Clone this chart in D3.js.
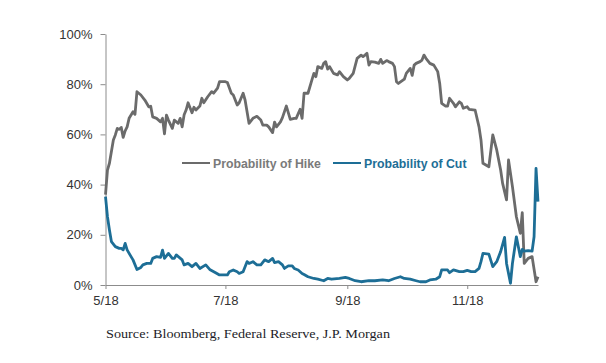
<!DOCTYPE html>
<html>
<head>
<meta charset="utf-8">
<script src="https://cdn.jsdelivr.net/npm/d3@7"></script>
<style>
  body { margin: 0; background: #fff; }
  .axis text { font-family: "Liberation Sans", Arial, sans-serif; font-size: 13px; fill: #333; }
  .axis path, .axis line { stroke: #8c8c8c; }
</style>
</head>
<body>
<div id="chart"></div>
<script>
// Fed funds futures: implied probability of a hike / cut (May - Dec 2018)
var hikeDates = ["5/1","5/2","5/3","5/5","5/6","5/7","5/8","5/9","5/10","5/11",
  "5/12","5/13","5/15","5/16","5/17","5/19","5/21","5/23","5/24","5/25",
  "5/27","5/29","5/30","5/31","6/1","6/2","6/4","6/5","6/7","6/8",
  "6/9","6/10","6/11","6/12","6/14","6/15","6/16","6/18","6/19","6/20",
  "6/22","6/24","6/25","6/27","6/28","7/1","7/2","7/4","7/5","7/7",
  "7/8","7/10","7/11","7/13","7/15","7/17","7/19","7/20","7/22","7/23",
  "7/25","7/26","7/27","7/29","7/30","8/1","8/3","8/5","8/6","8/8",
  "8/9","8/10","8/12","8/14","8/15","8/16","8/17","8/19","8/20","8/21",
  "8/22","8/23","8/25","8/27","8/28","8/30","9/1","9/2","9/4","9/6",
  "9/8","9/9","9/10","9/11","9/12","9/13","9/15","9/17","9/18","9/19",
  "9/21","9/22","9/24","9/25","9/26","9/27","9/30","10/1","10/3","10/4",
  "10/5","10/6","10/8","10/9","10/10","10/11","10/13","10/15","10/17","10/18",
  "10/19","10/21","10/22","10/23","10/25","10/26","10/28","10/29","10/30","11/1",
  "11/2","11/5","11/7","11/8","11/9","11/12","11/14","11/16","11/18","11/19",
  "11/21","11/22","11/24","11/26","11/28","11/29","11/30","12/2","12/4","12/6",
  "12/7"];
var hikeValues = [36, 45.8, 48.5, 57.8, 59.8, 62.4, 62, 62.8, 58.8, 61.4,
  63, 66.4, 69, 68, 77, 75.7, 73.7, 71, 71.2, 67,
  66.4, 65, 66.4, 60.2, 67.7, 65.7, 62.4, 65.7, 64.4, 66.4,
  63, 67.8, 69.7, 72.6, 68.6, 70.8, 69.7, 71.3, 74.4, 72.6,
  75, 77, 76.4, 78.4, 81, 81, 80.7, 76.4, 75.7, 71.7,
  72.6, 76.4, 73.7, 64.4, 66.4, 67.2, 65.7, 63.7, 63.7, 63,
  60.7, 64.9, 63, 65, 66.7, 71.3, 66, 66.4, 66.4, 70,
  66.4, 76.4, 76.4, 81.7, 84.3, 83, 87, 86.3, 88.3, 89,
  86, 87, 84.3, 83.7, 85, 83, 81.7, 82.3, 84.3, 90.3,
  91.6, 91, 91.6, 92.3, 87.6, 89, 88.8, 88.3, 89.9, 88.3,
  89.4, 89, 88.3, 87, 81, 80.3, 82, 84.3, 86.3, 83.5,
  87.6, 88.3, 89, 89.6, 91.6, 90.3, 88.3, 87.6, 85, 80.3,
  72.4, 71.3, 71.3, 74.4, 72.4, 71, 73, 72.4, 70.4, 71,
  70, 69.7, 63, 57.8, 48.5, 47.1, 59.8, 53.8, 45.8, 40.5,
  33.9, 49.8, 39.2, 27.2, 20.6, 28.8, 8.6, 10.6, 11.3, 1.3,
  3.3];

var cutDates = ["5/1","5/2","5/3","5/4","5/6","5/8","5/9","5/10","5/11","5/12",
  "5/14","5/15","5/17","5/19","5/20","5/22","5/24","5/25","5/27","5/29",
  "5/30","5/31","6/2","6/4","6/5","6/6","6/9","6/10","6/12","6/14",
  "6/16","6/18","6/21","6/23","6/26","6/28","7/2","7/3","7/5","7/7",
  "7/8","7/10","7/12","7/13","7/15","7/17","7/19","7/21","7/23","7/25",
  "7/26","7/28","7/30","7/31","8/2","8/4","8/5","8/7","8/9","8/10",
  "8/12","8/15","8/17","8/20","8/22","8/24","8/28","8/31","9/2","9/5",
  "9/8","9/12","9/15","9/19","9/22","9/25","9/28","9/30","10/3","10/6",
  "10/8","10/11","10/13","10/16","10/18","10/19","10/22","10/23","10/25","10/28",
  "10/30","11/1","11/3","11/5","11/7","11/8","11/9","11/12","11/14","11/16",
  "11/18","11/20","11/21","11/23","11/24","11/26","11/28","11/29","11/30","12/2",
  "12/4","12/5","12/6","12/7"];
var cutValues = [35.2, 27.2, 21.9, 17.3, 15.3, 14.6, 14.6, 14, 16.6, 14,
  11.3, 10, 6.2, 7, 8, 8.6, 8.6, 10.6, 11.3, 11,
  13.9, 10.6, 12.6, 10.6, 10.6, 12, 10, 8, 8.6, 7.3,
  8.6, 6.6, 8, 6.2, 4.9, 4, 4, 5.3, 6, 5.3,
  4.6, 5.3, 9.3, 8.6, 9.3, 8, 8, 10, 9.3, 10.6,
  8.9, 9.3, 8, 6.6, 7.6, 7.6, 6.6, 6, 4.6, 4.2,
  3.3, 2.6, 2.3, 1.7, 2.6, 2.3, 2.6, 3, 2.6, 1.7,
  1.3, 1.7, 1.7, 2, 1.7, 2.6, 3.3, 2.6, 2.3, 1.7,
  1.3, 1.3, 2, 2.3, 3.3, 6, 6, 4.9, 6, 5.3,
  5.3, 5.8, 5.3, 5.3, 6.6, 9.3, 12.6, 12.3, 7.3, 9.3,
  13.3, 19, 8.6, 0.7, 8.6, 19.2, 11.3, 14.2, 13.5, 13.7,
  13.5, 19.2, 46.5, 33.2];

var yTicks = [0, 20, 40, 60, 80, 100];
var xTicks = ["5/1", "7/1", "9/1", "11/1"];
var seriesNames = ["Probability of Hike", "Probability of Cut"];
var sourceNote = "Source:  Bloomberg, Federal Reserve, J.P. Morgan";

var hikeColor = "#6b6b6b";
var cutColor = "#1d6e96";

var svgWidth = 606;
var svgHeight = 363;
var margin = { top: 34, right: 68, bottom: 78, left: 105.5 };
var width = svgWidth - margin.left - margin.right;
var height = svgHeight - margin.top - margin.bottom;

var parseDate = d3.timeParse("%m/%d/%y");
function toDate(s) { return parseDate(s + "/18"); }

var hikeData = hikeDates.map(function(d, i) { return { date: toDate(d), value: hikeValues[i] }; });
var cutData = cutDates.map(function(d, i) { return { date: toDate(d), value: cutValues[i] }; });

var svg = d3.select("#chart")
  .append("svg")
  .attr("width", svgWidth)
  .attr("height", svgHeight);

var chartGroup = svg.append("g")
  .attr("transform", `translate(${margin.left}, ${margin.top})`);

// scales
var xScale = d3.scaleTime()
  .domain([toDate("5/1"), toDate("12/7")])
  .range([0, width]);

var yScale = d3.scaleLinear()
  .domain([0, 100])
  .range([height, 0]);

// axes
var bottomAxis = d3.axisBottom(xScale)
  .tickValues(xTicks.map(toDate))
  .tickFormat(d3.timeFormat("%-m/%y"))
  .tickSizeInner(4)
  .tickSizeOuter(0)
  .tickPadding(7);

var leftAxis = d3.axisLeft(yScale)
  .tickValues(yTicks)
  .tickFormat(d => d + "%")
  .tickSizeInner(5)
  .tickSizeOuter(0)
  .tickPadding(8);

chartGroup.append("g")
  .attr("class", "axis")
  .attr("transform", `translate(0, ${height})`)
  .call(bottomAxis);

chartGroup.append("g")
  .attr("class", "axis")
  .call(leftAxis);

// lines
var line = d3.line()
  .x(d => xScale(d.date))
  .y(d => yScale(d.value));

chartGroup.append("path")
  .datum(hikeData)
  .attr("fill", "none")
  .attr("stroke", hikeColor)
  .attr("stroke-width", 2.8)
  .attr("stroke-linejoin", "round")
  .attr("d", line);

chartGroup.append("path")
  .datum(cutData)
  .attr("fill", "none")
  .attr("stroke", cutColor)
  .attr("stroke-width", 2.8)
  .attr("stroke-linejoin", "round")
  .attr("d", line);

// legend
var legendItems = [
  { name: seriesNames[0], color: hikeColor, text: "#7a7a7a", x: 182 },
  { name: seriesNames[1], color: cutColor, text: cutColor, x: 333 }
];

var legend = svg.append("g");
legendItems.forEach(function(item) {
  legend.append("line")
    .attr("x1", item.x)
    .attr("x2", item.x + 28)
    .attr("y1", 163)
    .attr("y2", 163)
    .attr("stroke", item.color)
    .attr("stroke-width", 2);
  legend.append("text")
    .attr("x", item.x + 31)
    .attr("y", 167.5)
    .style("font-family", "'Liberation Sans', Arial, sans-serif")
    .style("font-size", "12.3px")
    .style("font-weight", "bold")
    .style("fill", item.text)
    .text(item.name);
});

// source note
svg.append("text")
  .attr("x", 106)
  .attr("y", 337.5)
  .attr("textLength", 284)
  .attr("lengthAdjust", "spacingAndGlyphs")
  .style("font-family", "'Liberation Serif', 'DejaVu Serif', serif")
  .style("font-size", "13px")
  .style("fill", "#1c1c28")
  .text(sourceNote);
</script>
</body>
</html>
